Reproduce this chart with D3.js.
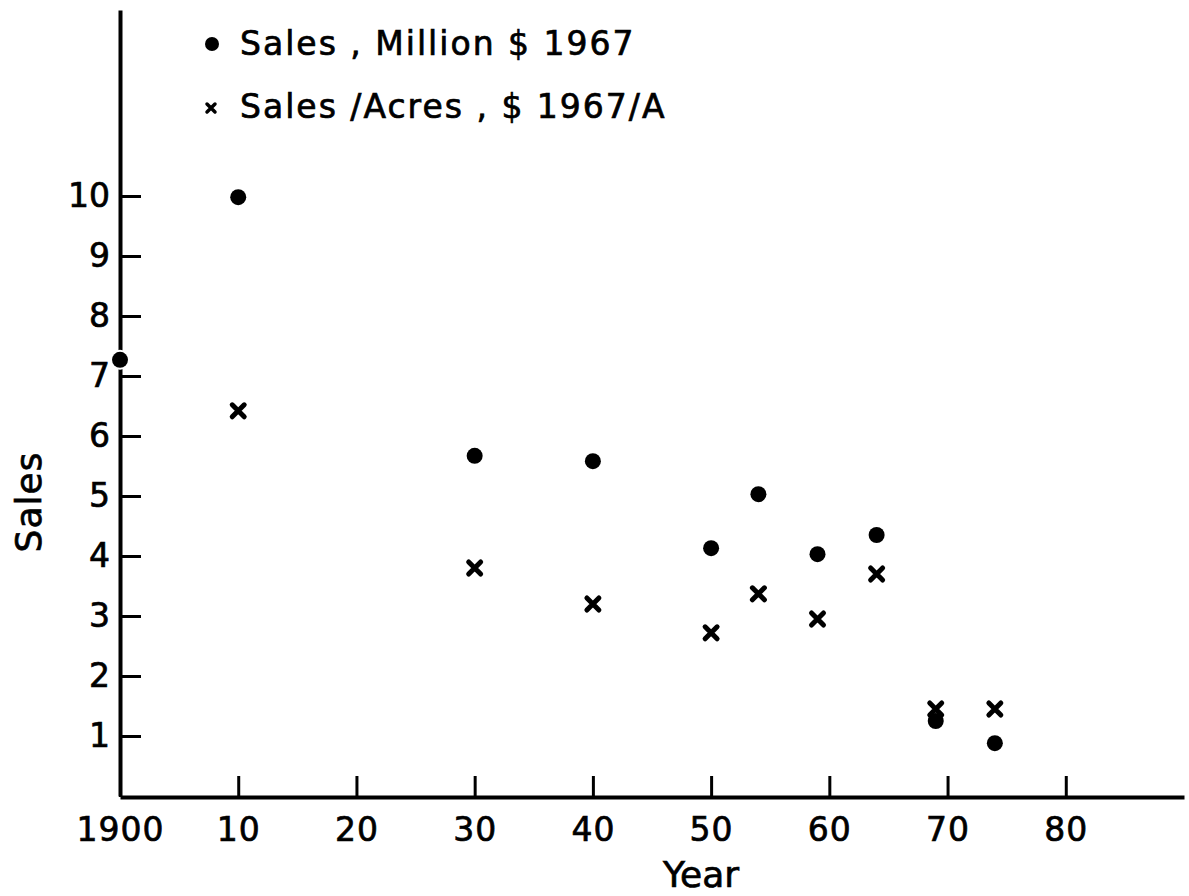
<!DOCTYPE html>
<html>
<head>
<meta charset="utf-8">
<script src="https://cdn.jsdelivr.net/npm/d3@7"></script>
<style>
  html, body { margin: 0; padding: 0; background: #fff; }
  svg text { font-family: "DejaVu Sans", sans-serif; fill: #000; stroke: #000; stroke-width: 0.7px; }
</style>
</head>
<body>
<svg id="chart" width="1189" height="896"></svg>
<script>
// ---- data ----
const salesYears  = [1900, 1910, 1930, 1940, 1950, 1954, 1959, 1964, 1969, 1974];
const salesValues = [7.27, 9.98, 5.67, 5.58, 4.13, 5.03, 4.03, 4.35, 1.25, 0.88];
const acreYears   = [1910, 1930, 1940, 1950, 1954, 1959, 1964, 1969, 1974];
const acreValues  = [6.42, 3.80, 3.20, 2.72, 3.37, 2.95, 3.70, 1.45, 1.45];
const xTickValues = [1900, 1910, 1920, 1930, 1940, 1950, 1960, 1970, 1980];
const xTickLabels = ["1900", "10", "20", "30", "40", "50", "60", "70", "80"];
const yTickValues = [1, 2, 3, 4, 5, 6, 7, 8, 9, 10];
const yTickLabels = ["1", "2", "3", "4", "5", "6", "7", "8", "9", "10"];
const legendLabels = ["Sales , Million $ 1967", "Sales /Acres , $ 1967/A"];
const xTitle = "Year";
const yTitle = "Sales";

// ---- chart ----
const svg = d3.select("#chart");
const x = d3.scaleLinear().domain([1900, 1990]).range([120, 1184]);
const y = d3.scaleLinear().domain([0, 13.1]).range([796, 10]);

const fs = 33;

// x axis
const xAxis = d3.axisBottom(x)
  .tickValues(xTickValues)
  .tickFormat((d, i) => xTickLabels[i])
  .tickSizeInner(-21).tickSizeOuter(0).tickPadding(21);
const gx = svg.append("g").attr("transform", "translate(0,797)").call(xAxis);
gx.select(".domain").attr("stroke", "#000").attr("stroke-width", 4);
gx.selectAll(".tick line").attr("stroke", "#000").attr("stroke-width", 3);
gx.selectAll(".tick text").attr("font-size", fs).attr("letter-spacing", 1).attr("fill", "#000");

// y axis
const yAxis = d3.axisLeft(y)
  .tickValues(yTickValues)
  .tickFormat((d, i) => yTickLabels[i])
  .tickSizeInner(-21).tickSizeOuter(0).tickPadding(10);
const gy = svg.append("g").attr("transform", "translate(120,0)").call(yAxis);
gy.select(".domain").attr("stroke", "#000").attr("stroke-width", 4);
gy.selectAll(".tick line").attr("stroke", "#000").attr("stroke-width", 3);
gy.selectAll(".tick text").attr("font-size", fs).attr("fill", "#000");

// titles
svg.append("text").attr("x", 701).attr("y", 887).attr("text-anchor", "middle")
  .attr("font-size", 36).text(xTitle);
svg.append("text").attr("transform", "translate(41,502) rotate(-90)")
  .attr("text-anchor", "middle").attr("font-size", 36).attr("letter-spacing", 1).text(yTitle);

// crosses path generator
function crossPath(cx, cy, s) {
  return `M${cx - s},${cy - s}L${cx + s},${cy + s}M${cx - s},${cy + s}L${cx + s},${cy - s}`;
}

// sales dots
svg.append("g").selectAll("circle")
  .data(salesYears.map((yr, i) => ({ yr, v: salesValues[i] })))
  .join("circle")
  .attr("cx", d => x(d.yr)).attr("cy", d => y(d.v)).attr("r", 8)
  .attr("fill", "#000").attr("stroke", "#fff").attr("stroke-width", 4)
  .attr("paint-order", "stroke");

// acre crosses
svg.append("g").selectAll("path")
  .data(acreYears.map((yr, i) => ({ yr, v: acreValues[i] })))
  .join("path")
  .attr("d", d => crossPath(x(d.yr), y(d.v), 6))
  .attr("stroke", "#000").attr("stroke-width", 5).attr("stroke-linecap", "round")
  .attr("fill", "none");

// legend
const lg = svg.append("g");
lg.append("circle").attr("cx", 212).attr("cy", 44).attr("r", 7).attr("fill", "#000");
lg.append("path").attr("d", crossPath(211, 108, 4))
  .attr("stroke", "#000").attr("stroke-width", 3.5).attr("stroke-linecap", "round");
lg.selectAll("text").data(legendLabels).join("text")
  .attr("x", 240).attr("y", (d, i) => 55 + i * 63)
  .attr("font-size", fs).attr("letter-spacing", 2).text(d => d);
</script>
</body>
</html>
